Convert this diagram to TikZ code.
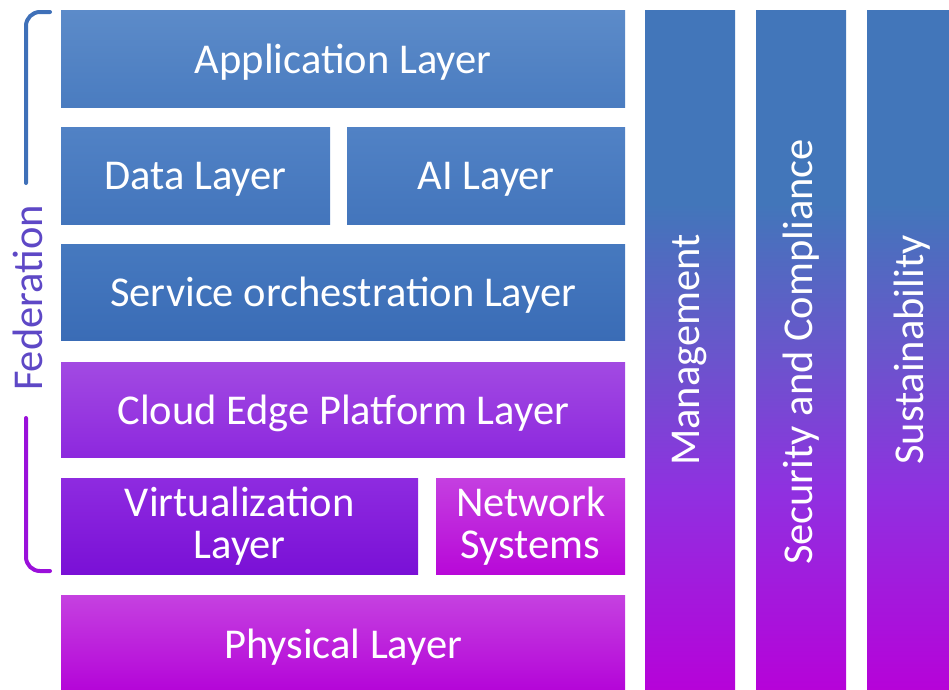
\documentclass[tikz,border=0pt]{standalone}
\usepackage{fontspec}
\setmainfont{Carlito}
\definecolor{appTop}{HTML}{5C8BC9}
\definecolor{appBot}{HTML}{4A7CC0}
\definecolor{dataTop}{HTML}{5182C5}
\definecolor{dataBot}{HTML}{4375BC}
\definecolor{srvTop}{HTML}{4679BF}
\definecolor{srvBot}{HTML}{3A6CB6}
\definecolor{cloudTop}{HTML}{A24AE2}
\definecolor{cloudBot}{HTML}{8D28DE}
\definecolor{virtTop}{HTML}{8E2BE0}
\definecolor{virtBot}{HTML}{7A10D6}
\definecolor{netTop}{HTML}{C43FE0}
\definecolor{netBot}{HTML}{B808D8}
\definecolor{physTop}{HTML}{C541E0}
\definecolor{physBot}{HTML}{B404D8}
\definecolor{colTop}{HTML}{4276BA}
\definecolor{colMid}{HTML}{6A55CC}
\definecolor{colLow}{HTML}{9030E0}
\definecolor{colBot}{HTML}{B800D8}
\definecolor{fedBlue}{HTML}{3F70B8}
\definecolor{fedPurple}{HTML}{9A10DA}
\definecolor{fedText}{HTML}{5E48C6}
\pgfdeclareverticalshading{colgrad}{100bp}{color(0bp)=(colBot); color(25bp)=(colBot);
  color(40bp)=(colLow); color(50bp)=(colMid); color(61bp)=(colTop); color(100bp)=(colTop)}
\begin{document}
\begin{tikzpicture}[
  x=1pt, y=-1pt,
  layer/.style={anchor=north west, inner sep=0pt, text=white, align=center,
    font=\fontsize{42.5}{42}\selectfont},
  oneline/.style={text depth=0pt},
  column/.style={anchor=north west, inner sep=0pt, minimum width=90pt,
    minimum height=690pt, shading=colgrad},
  coltext/.style={rotate=90, text=white, font=\fontsize{42.5}{42}\selectfont},
  bracket/.style={line width=4pt, line cap=round, rounded corners=14pt}
]
\useasboundingbox (0,0) rectangle (949,689);
\clip (0,0) rectangle (949,689);
% layer stack
\node[layer, oneline, minimum width=564pt, minimum height=97pt, top color=appTop, bottom color=appBot]
  (app) at (61,10) {Application Layer};
\node[layer, oneline, minimum width=269pt, minimum height=97pt, top color=dataTop, bottom color=dataBot]
  (data) at (61,127) {Data Layer};
\node[layer, oneline, minimum width=278pt, minimum height=97pt, top color=dataTop, bottom color=dataBot]
  (ai) at (347,127) {AI Layer};
\node[layer, oneline, minimum width=564pt, minimum height=96pt, top color=srvTop, bottom color=srvBot]
  (srv) at (61,244) {Service orchestration Layer};
\node[layer, oneline, minimum width=564pt, minimum height=95pt, top color=cloudTop, bottom color=cloudBot]
  (cloud) at (61,362) {Cloud Edge Platform Layer};
\node[layer, minimum width=357pt, minimum height=96pt, top color=virtTop, bottom color=virtBot]
  (virt) at (61,478) {Virtualization\\Layer};
\node[layer, minimum width=189pt, minimum height=96pt, top color=netTop, bottom color=netBot]
  (net) at (436,478) {Network\\Systems};
\node[layer, oneline, minimum width=564pt, minimum height=97pt, top color=physTop, bottom color=physBot]
  (phys) at (61,595) {Physical Layer};
% side columns
\node[column] (mgmt) at (645,10) {};
\node[column] (sec) at (756,10) {};
\node[column] (sust) at (867,10) {};
\node[coltext] at (690,350) {Management};
\node[coltext] at (801,352) {Security and Compliance};
\node[coltext] at (912,350) {Sustainability};
% federation bracket
\coordinate (fedA) at (50,12);
\coordinate (fedB) at (26,183);
\coordinate (fedC) at (26,418);
\coordinate (fedD) at (50,571);
\draw[bracket, fedBlue] (fedA) -- (fedA -| fedB) -- (fedB);
\draw[bracket, fedPurple] (fedC) -- (fedC |- fedD) -- (fedD);
\node[rotate=90, text=fedText, font=\fontsize{42.5}{42}\selectfont] (fed) at (28,298) {Federation};
\end{tikzpicture}
\end{document}
